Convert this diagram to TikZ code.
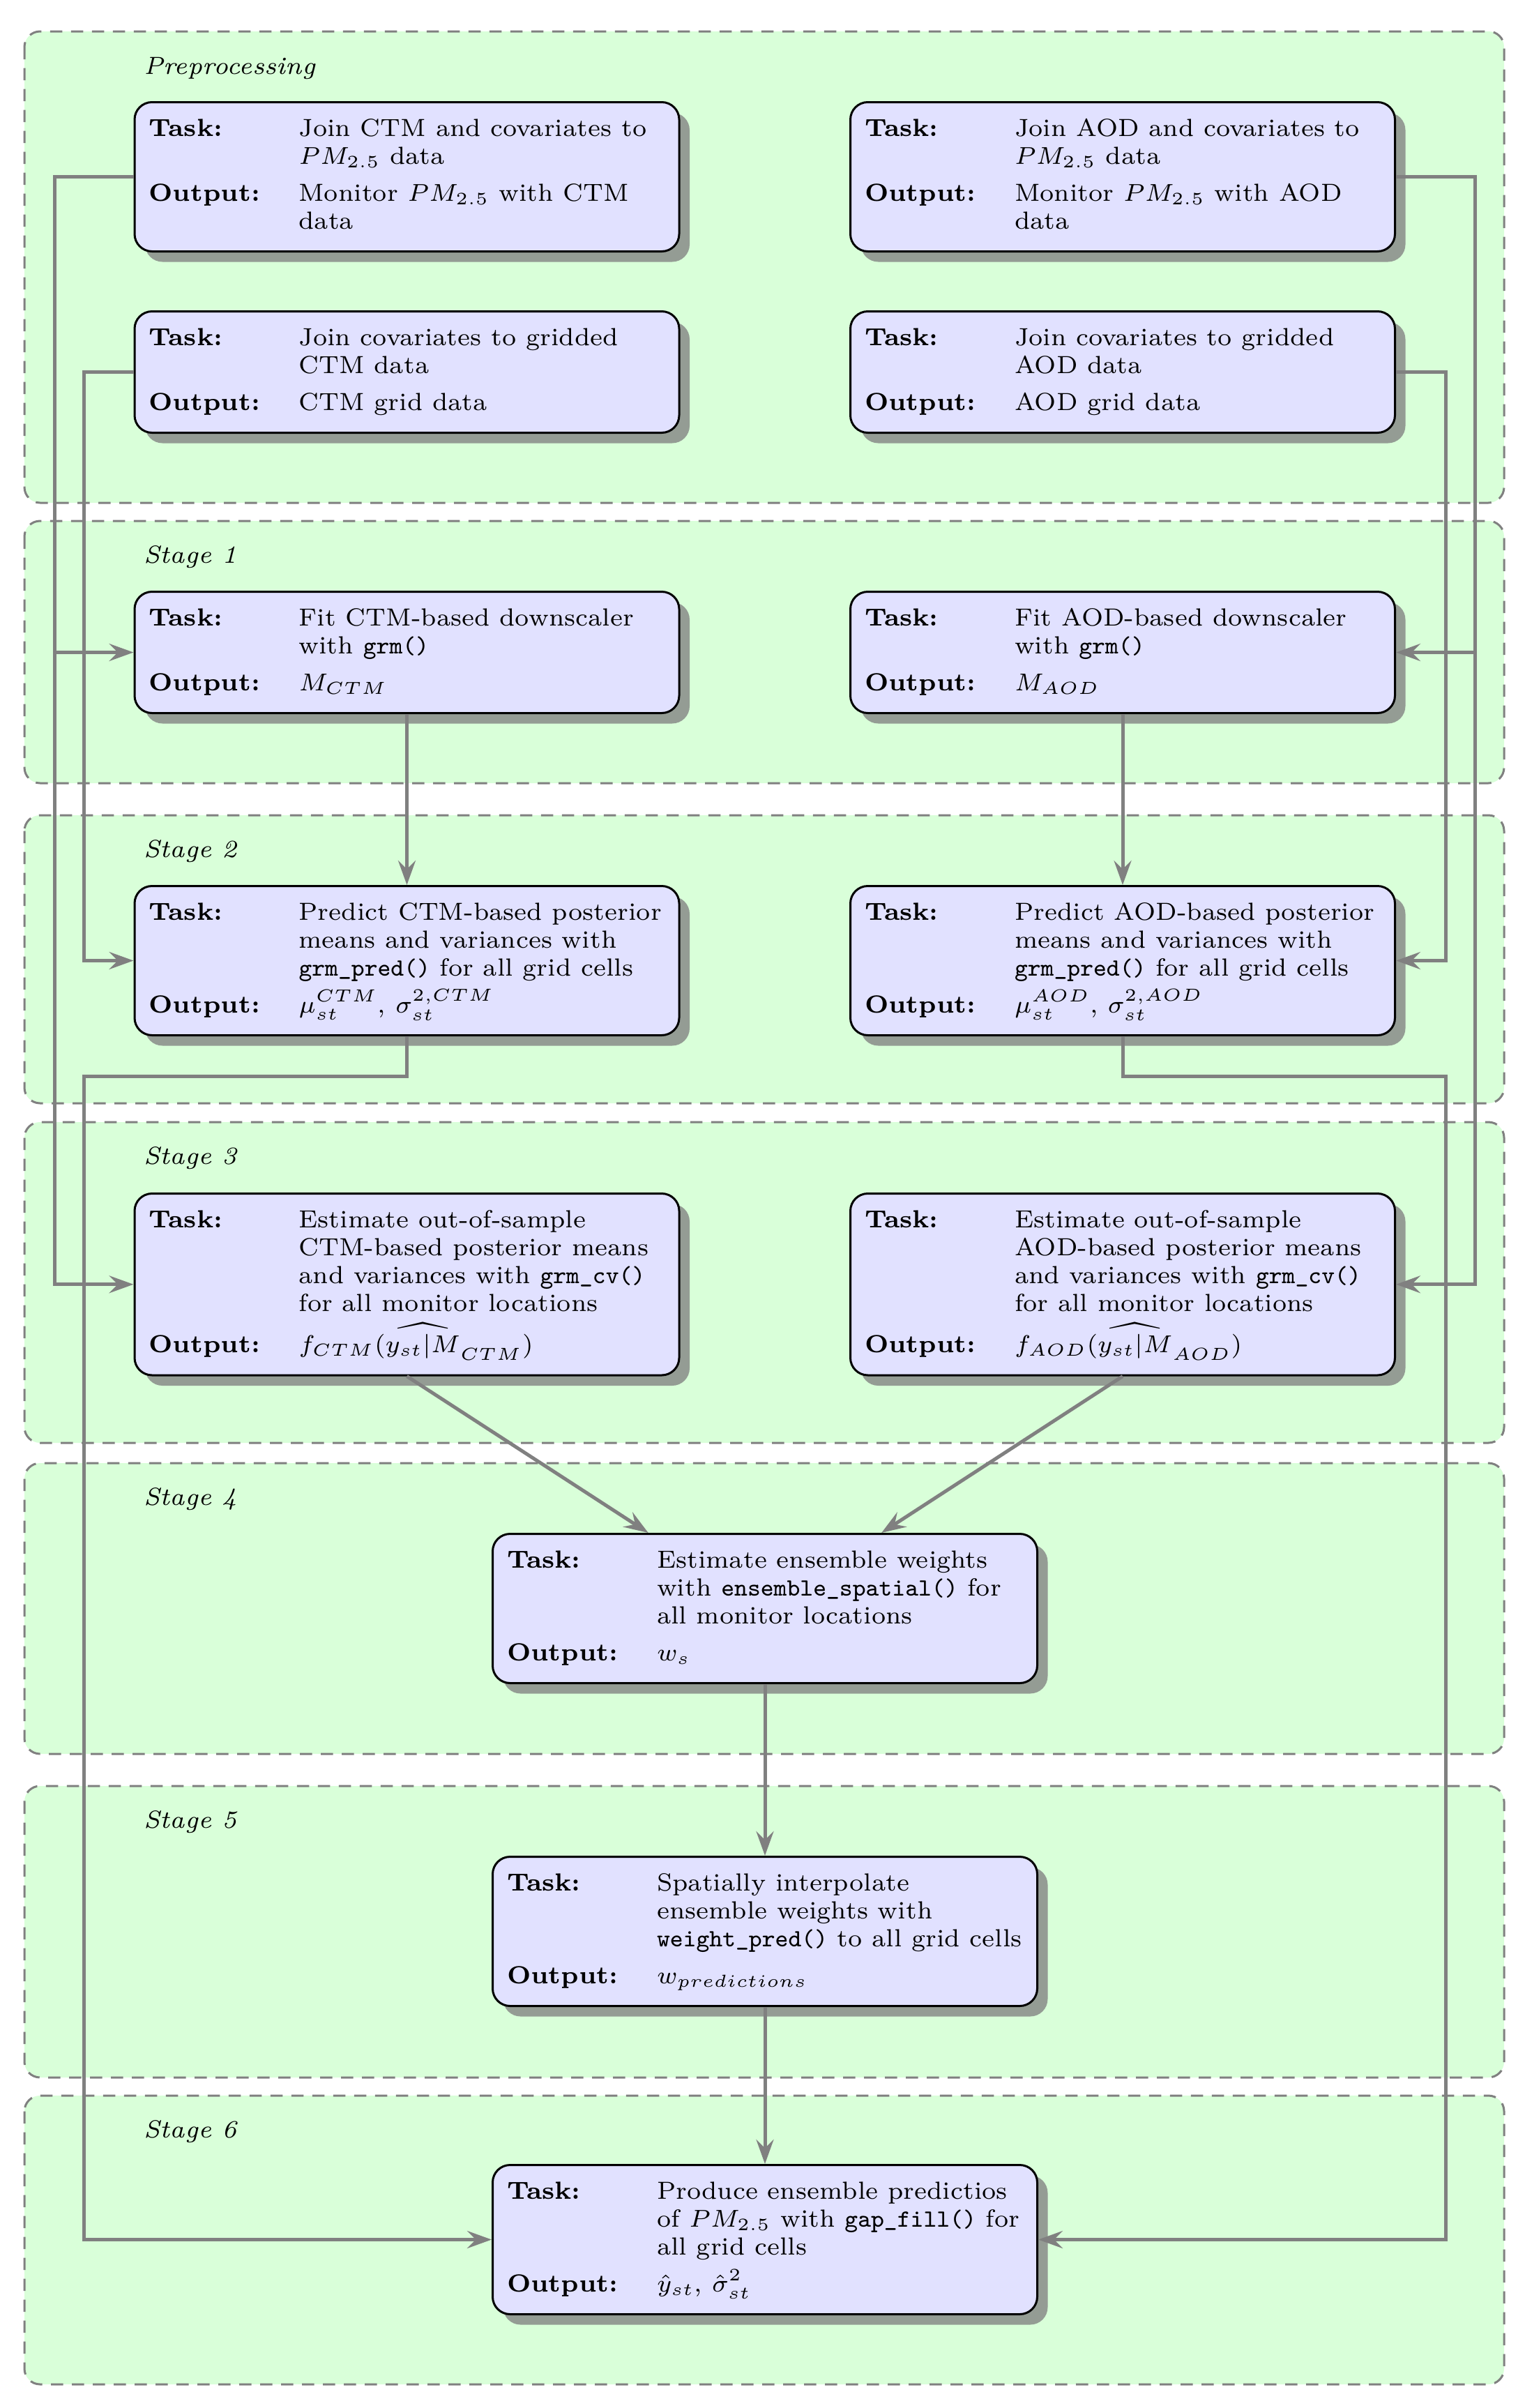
\documentclass[tikz,border=0pt]{standalone}
\usepackage{array}
\usetikzlibrary{shadows,arrows.meta}
\definecolor{stagefill}{RGB}{217,255,217}
\definecolor{procfill}{RGB}{225,225,255}
\definecolor{shadowc}{RGB}{148,156,148}
\newcommand{\procrows}[2]{\begin{tabular}{@{}>{\bfseries}p{43pt}@{}>{\raggedright\arraybackslash}p{105pt}@{}}Task: & #1\\ \noalign{\vskip 2.6pt} Output: & #2\end{tabular}}
\tikzset{
  stagebox/.style={draw=gray, fill=stagefill, line width=0.6pt, dash pattern=on 3.5pt off 2.5pt, rounded corners=4.5pt},
  stagelabel/.style={anchor=base west, inner sep=0pt, font=\fontsize{7.1}{8}\selectfont\itshape},
  procbox/.style={draw=black, line width=0.6pt, fill=procfill, rounded corners=5pt, inner xsep=4.1pt, inner ysep=4.1pt, anchor=north, font=\fontsize{7.1}{8}\selectfont,
    drop shadow={shadow xshift=3pt, shadow yshift=-3pt, fill=shadowc, opacity=1}},
  conn/.style={draw=gray, line width=1pt, -{Stealth[length=7pt,width=5pt,inset=2.5pt]}},
}
\begin{document}
\begin{tikzpicture}[x=1pt,y=1pt]
\useasboundingbox (0,0) rectangle (437.2,-690.6);
% stage containers
\draw[stagebox] (7,-9) rectangle (431.4,-144.2);
\draw[stagebox] (7,-149.4) rectangle (431.4,-224.6);
\draw[stagebox] (7,-233.8) rectangle (431.4,-316.4);
\draw[stagebox] (7,-321.8) rectangle (431.4,-413.8);
\draw[stagebox] (7,-419.6) rectangle (431.4,-503);
\draw[stagebox] (7,-512.2) rectangle (431.4,-595.8);
\draw[stagebox] (7,-601) rectangle (431.4,-683.8);
% labels
\node[stagelabel] (lpre) at (41,-21.3) {Preprocessing};
\node[stagelabel] (ls1) at (41,-161.4) {Stage 1};
\node[stagelabel] (ls2) at (41,-245.8) {Stage 2};
\node[stagelabel] (ls3) at (41,-333.8) {Stage 3};
\node[stagelabel] (ls4) at (41,-431.6) {Stage 4};
\node[stagelabel] (ls5) at (41,-524.2) {Stage 5};
\node[stagelabel] (ls6) at (41,-613) {Stage 6};
% boxes
\node[procbox] (prectm) at (116.7,-29) {\procrows{Join CTM and covariates to\newline $PM_{2.5}$ data}{Monitor $PM_{2.5}$ with CTM\newline data}};
\node[procbox] (preaod) at (322,-29) {\procrows{Join AOD and covariates to\newline $PM_{2.5}$ data}{Monitor $PM_{2.5}$ with AOD\newline data}};
\node[procbox] (gridctm) at (116.7,-89) {\procrows{Join covariates to gridded\newline CTM data}{CTM grid data}};
\node[procbox] (gridaod) at (322,-89) {\procrows{Join covariates to gridded\newline AOD data}{AOD grid data}};
\node[procbox] (s1ctm) at (116.7,-169.4) {\procrows{Fit CTM-based downscaler\newline with \texttt{grm()}}{$M_{CTM}$}};
\node[procbox] (s1aod) at (322,-169.4) {\procrows{Fit AOD-based downscaler\newline with \texttt{grm()}}{$M_{AOD}$}};
\node[procbox] (s2ctm) at (116.7,-253.8) {\procrows{Predict CTM-based posterior\newline means and variances with\newline \texttt{grm\_pred()} for all grid cells}{\smash{$\mu_{st}^{CTM}$, $\sigma_{st}^{2,CTM}$}}};
\node[procbox] (s2aod) at (322,-253.8) {\procrows{Predict AOD-based posterior\newline means and variances with\newline \texttt{grm\_pred()} for all grid cells}{\smash{$\mu_{st}^{AOD}$, $\sigma_{st}^{2,AOD}$}}};
\node[procbox] (s3ctm) at (116.7,-342) {\procrows{Estimate out-of-sample\newline CTM-based posterior means\newline and variances with \texttt{grm\_cv()}\newline for all monitor locations}{\raisebox{0pt}[6.9pt][2pt]{$f_{CTM}(\widehat{y_{st}|M}_{CTM})$}}};
\node[procbox] (s3aod) at (322,-342) {\procrows{Estimate out-of-sample\newline AOD-based posterior means\newline and variances with \texttt{grm\_cv()}\newline for all monitor locations}{\raisebox{0pt}[6.9pt][2pt]{$f_{AOD}(\widehat{y_{st}|M}_{AOD})$}}};
\node[procbox] (s4) at (219.4,-439.6) {\procrows{Estimate ensemble weights\newline with \texttt{ensemble\_spatial()} for\newline all monitor locations}{$w_s$}};
\node[procbox] (s5) at (219.4,-532.2) {\procrows{Spatially interpolate\newline ensemble weights with\newline \texttt{weight\_pred()} to all grid cells}{$w_{predictions}$}};
\node[procbox] (s6) at (219.4,-620.6) {\procrows{Produce ensemble predictios\newline of $PM_{2.5}$ with \texttt{gap\_fill()} for\newline all grid cells}{\smash{$\hat{y}_{st}$, $\hat{\sigma}_{st}^2$}}};
% routing coordinates
\coordinate (L1) at (15.6,0);
\coordinate (L2) at (24,0);
\coordinate (R1) at (414.6,0);
\coordinate (R2) at (423,0);
\coordinate (J) at (0,-308.6);
% connectors
\draw[conn] (prectm.west) -- (prectm.west -| L1) |- (s1ctm.west);
\draw[conn] (prectm.west) -- (prectm.west -| L1) |- (s3ctm.west);
\draw[conn] (gridctm.west) -- (gridctm.west -| L2) |- (s2ctm.west);
\draw[conn] (preaod.east) -- (preaod.east -| R2) |- (s1aod.east);
\draw[conn] (preaod.east) -- (preaod.east -| R2) |- (s3aod.east);
\draw[conn] (gridaod.east) -- (gridaod.east -| R1) |- (s2aod.east);
\draw[conn] (s1ctm.south) -- (s2ctm.north);
\draw[conn] (s1aod.south) -- (s2aod.north);
\draw[conn] (s2ctm.south) -- (s2ctm.south |- J) -- (J -| L2) |- (s6.west);
\draw[conn] (s2aod.south) -- (s2aod.south |- J) -- (J -| R1) |- (s6.east);
\draw[conn] (s3ctm.south) -- (s4);
\draw[conn] (s3aod.south) -- (s4);
\draw[conn] (s4) -- (s5);
\draw[conn] (s5) -- (s6);
\end{tikzpicture}
\end{document}
